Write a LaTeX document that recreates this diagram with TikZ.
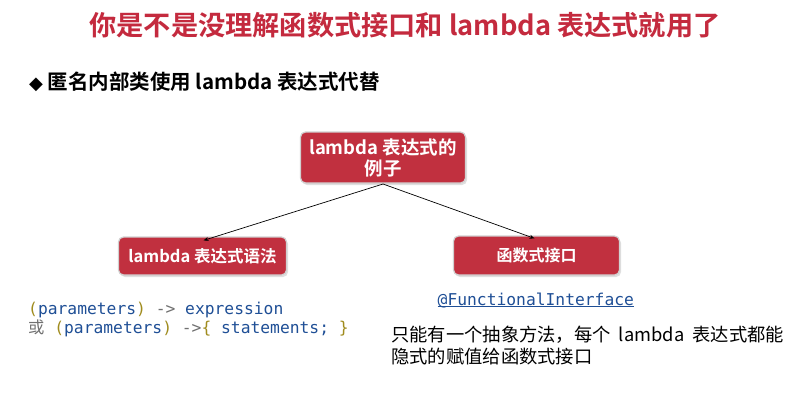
\documentclass[tikz,border=0pt]{standalone}
\usepackage{fontspec}
\setmainfont{Noto Sans CJK SC}
\setmonofont{DejaVu Sans Mono}
\newfontfamily\cjkbold{Noto Sans CJK SC Bold}
\newfontfamily\symfont{DejaVu Sans}
\usetikzlibrary{shadows,arrows.meta}
\definecolor{boxred}{HTML}{C1303F}
\definecolor{titlered}{HTML}{C42A3E}
\definecolor{codeblue}{HTML}{1F4F96}
\definecolor{codeolive}{HTML}{A08C1E}
\definecolor{codegray}{HTML}{707070}
\tikzset{
  redbox/.style={draw=white!82!black, line width=1.2pt, fill=boxred, rounded corners=5pt,
    drop shadow={shadow xshift=1.5pt, shadow yshift=-2pt, opacity=0.25},
    text=white, font=\cjkbold\fontsize{16.5}{19}\selectfont, align=center, inner sep=0pt},
  conn/.style={-{Stealth[length=5pt,width=4pt]}, line width=0.7pt, black},
  codetxt/.style={anchor=west, inner sep=0pt, font=\ttfamily\fontsize{16.3}{18}\selectfont},
}
\begin{document}
\begin{tikzpicture}[x=1pt,y=-1pt]
\useasboundingbox (0,0) rectangle (789,401);
\fill[white] (0,0) rectangle (789,401);

\node[inner sep=0pt, text=titlered, font=\cjkbold\fontsize{27.2}{30}\selectfont] (title) at (405,25)
  {你是不是没理解函数式接口和 lambda 表达式就用了};

\node[inner sep=0pt, anchor=west, font=\cjkbold\fontsize{20.5}{24}\selectfont] (bullet) at (29,82)
  {{\symfont\fontsize{18}{20}\selectfont ◆} 匿名内部类使用 lambda 表达式代替};

\node[redbox, minimum width=165pt, minimum height=51pt, font=\cjkbold\fontsize{18.5}{21}\selectfont] (top) at (383,157.5)
  {lambda 表达式的\\例子};
\node[redbox, minimum width=168pt, minimum height=38pt] (left) at (202.5,256)
  {lambda 表达式语法};
\node[redbox, minimum width=166pt, minimum height=39pt, font=\cjkbold\fontsize{16}{19}\selectfont] (right) at (536.5,255.5)
  {函数式接口};

\coordinate (tb) at (383,184);
\draw[conn] (tb) -- ([xshift=1pt,yshift=-4pt]left.north);
\draw[conn] (tb) -- ([xshift=-2pt,yshift=-3pt]right.north);

\node[codetxt] (code1) at (28,310)
  {\textcolor{codeolive}{(}\textcolor{codeblue}{parameters}\textcolor{codeolive}{)} \textcolor{codegray}{->} \textcolor{codeblue}{expression}};
\node[codetxt] (code2) at (28,328.5)
  {\textcolor{codegray}{\rmfamily 或} \textcolor{codeolive}{(}\textcolor{codeblue}{parameters}\textcolor{codeolive}{)} \textcolor{codegray}{->}\textcolor{codeolive}{\{} \textcolor{codeblue}{statements;} \textcolor{codeolive}{\}}};

\node[codetxt, text=codeblue] (fi) at (437.5,300.5) {@FunctionalInterface};
\draw[codeblue, line width=0.6pt] ([yshift=2pt]fi.south west) -- ([yshift=2pt]fi.south east);

\node[anchor=west, inner sep=0pt, align=left, font=\fontsize{18.3}{21.5}\selectfont] (desc) at (391,345.5)
  {只能有一个抽象方法，每个~~lambda~~表达式都能\\隐式的赋值给函数式接口};
\end{tikzpicture}
\end{document}
